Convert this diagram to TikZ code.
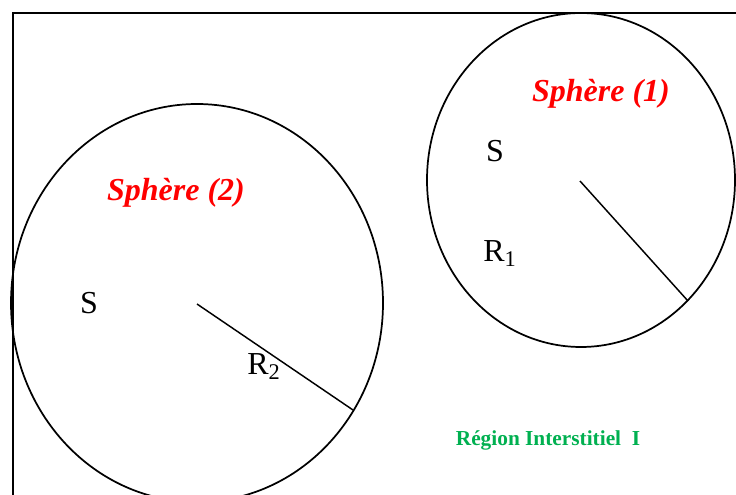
\documentclass[tikz,border=0pt]{standalone}
\usepackage{fontspec}
\setmainfont{Liberation Serif}
\definecolor{sred}{RGB}{255,0,0}
\definecolor{sgreen}{RGB}{0,176,80}
\tikzset{
  outline/.style={line width=1.3pt, black},
  radius line/.style={line width=1.1pt, black},
  title/.style={text=sred, font=\fontsize{24}{28}\selectfont\bfseries\itshape, inner sep=0pt},
  lbl/.style={text=black, font=\fontsize{24}{28}\selectfont, inner sep=0pt},
  region/.style={text=sgreen, font=\fontsize{16}{19}\selectfont\bfseries, inner sep=0pt}
}
\begin{document}
\begin{tikzpicture}[x=0.75pt,y=-0.75pt]
\useasboundingbox (0,0) rectangle (736,495);
\begin{scope}
\clip (0,0) rectangle (736,495);
% frame
\draw[line width=1.3pt] (13,500) -- (13,13) -- (740,13);
% sphere 1
\draw[outline] (581,180) ellipse [x radius=154, y radius=167];
\coordinate (c1) at (580,181);
\coordinate (e1) at (688,301);
\draw[radius line] (c1) -- (e1);
% sphere 2
\draw[outline] (197,303) ellipse [x radius=186, y radius=199];
\coordinate (c2) at (197,304);
\coordinate (e2) at (353,410);
\draw[radius line] (c2) -- (e2);
\end{scope}
\node[title] (t1) at (601,94) {Sphère (1)};
\node[lbl] (s1) at (495,151) {S};
\node[lbl] (r1) at (500,254) {R\textsubscript{1}};
\node[title] (t2) at (176,193) {Sphère (2)};
\node[lbl] (s2) at (89,303) {S};
\node[lbl] (r2) at (264,367) {R\textsubscript{2}};
\node[region] (reg) at (548,440) {Région Interstitiel\ \ I};
\end{tikzpicture}
\end{document}
